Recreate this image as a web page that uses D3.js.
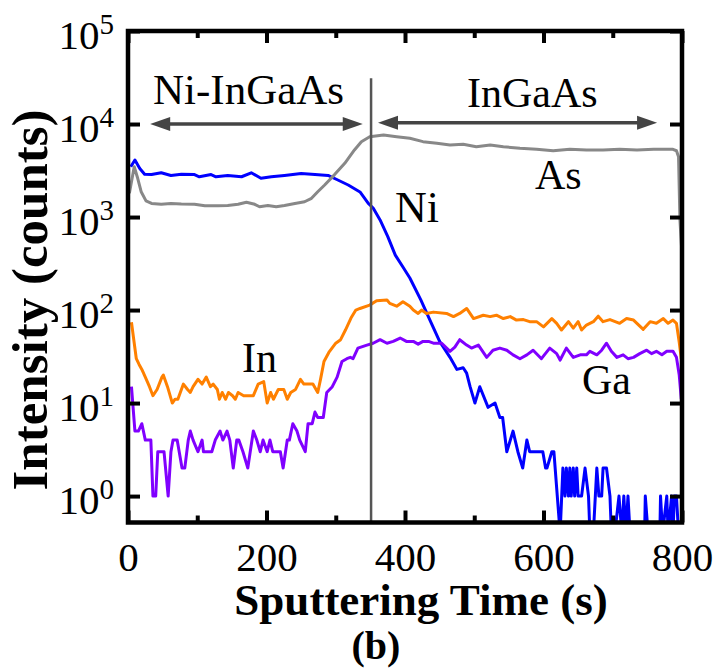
<!DOCTYPE html>
<html>
<head>
<meta charset="utf-8">
<script src="https://cdn.jsdelivr.net/npm/d3@7"></script>
<style>
  body { margin: 0; background: #fff; }
  svg { font-family: "Liberation Serif", "Times New Roman", serif; }
</style>
</head>
<body>
<div id="container"></div>
<script>
// SIMS depth profile, [sputtering time (s), intensity (counts)]
var niData = [[4,3470],[10,4100],[17,3330],[24,2880],[34,2860],[48,2990],[62,2800],[77,2880],[96,2860],[103,2710],[120,2860],[127,2710],[144,2800],[164,2710],[178,2990],[192,2610],[207,2710],[226,2800],[250,2940],[270,2860],[289,2800],[303,2500],[318,2210],[335,1860],[347,1400],[354,1250],[364,930],[375,620],[386,390],[397,290],[407,221],[423,128],[436,78],[450,46],[465,31],[475,23],[484,24],[489,21],[494,15],[501,10],[508,15],[520,9],[530,10],[537,7],[541,7],[547,3],[556,5],[563,3],[570,2],[576,4],[580,3],[599,3],[603,2],[605,2],[612,3],[615,3],[624,0],[628,2],[631,1],[633,2],[636,1],[638,2],[640,1],[643,2],[645,1],[648,2],[650,1],[655,1],[660,2],[665,1],[667,0],[672,0],[677,2],[680,1],[684,1],[686,2],[691,2],[696,1],[698,0],[703,0],[709,1],[713,0],[716,1],[719,0],[722,1],[725,0],[746,0],[747,1],[751,0],[768,0],[769,1],[772,0],[778,1],[780,0],[785,1],[787,0],[789,1],[792,1],[795,0],[800,0]];

var asData = [[2,1800],[9,3470],[14,2610],[19,1870],[26,1490],[34,1400],[48,1370],[62,1400],[77,1380],[96,1370],[111,1320],[130,1320],[144,1330],[159,1370],[171,1440],[183,1370],[190,1290],[202,1330],[214,1290],[226,1330],[241,1400],[255,1460],[265,1590],[274,1870],[284,2210],[298,2840],[313,3780],[327,5260],[337,6460],[349,7300],[369,7600],[388,7300],[407,7020],[426,6460],[446,6200],[465,5940],[484,6050],[503,5700],[523,5940],[542,5700],[566,5480],[590,5350],[614,5160],[638,5350],[662,5250],[686,5250],[710,5350],[735,5250],[759,5350],[787,5350],[792,5160],[795,4450],[797,930],[800,400]];

var inData = [[5,74],[8,50],[12,30],[16,26],[20,23],[25,19],[31,15],[36,12],[42,14],[49,19],[51,20],[57,15],[64,10],[68,11],[72,11],[80,16],[86,14],[90,13],[94,15],[101,18],[107,16],[113,19],[119,15],[123,16],[129,14],[132,11],[136,13],[141,11],[145,13],[151,12],[155,11],[159,13],[167,12],[181,12],[188,16],[196,17],[201,10],[206,13],[210,11],[217,14],[225,14],[230,11],[235,13],[242,14],[249,18],[254,16],[261,16],[267,16],[274,13],[278,18],[283,28],[290,35],[300,44],[307,48],[314,61],[322,82],[329,100],[335,104],[349,113],[359,126],[374,128],[378,118],[388,110],[397,123],[407,110],[412,100],[419,92],[424,100],[431,92],[441,95],[460,92],[470,85],[479,92],[489,104],[499,81],[513,88],[523,85],[532,88],[542,81],[552,85],[561,78],[571,79],[580,75],[590,75],[600,66],[612,81],[619,72],[626,61],[636,75],[643,64],[650,75],[655,61],[662,69],[672,75],[679,86],[686,75],[696,79],[710,72],[720,81],[730,78],[744,62],[754,75],[763,72],[773,81],[780,72],[787,78],[792,72],[796,45],[799,30]];

var gaData = [[5,15],[10,5],[15,5],[20,6],[25,4],[30,4],[33,4],[36,1],[40,1],[43,3],[52,3],[58,1],[62,3],[65,4],[71,4],[78,2],[82,2],[87,4],[90,5],[94,4],[101,3],[107,4],[109,3],[121,3],[126,4],[133,5],[137,4],[143,5],[147,4],[152,2],[157,4],[160,4],[166,3],[173,2],[181,5],[186,4],[191,3],[195,4],[201,3],[205,4],[209,3],[220,3],[224,2],[230,4],[233,4],[238,6],[244,5],[248,4],[256,3],[260,6],[266,6],[270,8],[274,7],[282,7],[287,13],[295,15],[302,19],[309,28],[316,30],[321,31],[325,30],[332,39],[345,42],[354,44],[364,48],[374,44],[383,46],[393,50],[402,46],[412,46],[419,43],[426,46],[434,46],[441,44],[453,44],[465,36],[472,40],[479,48],[489,42],[496,39],[506,42],[518,31],[527,37],[537,39],[547,37],[556,33],[566,30],[576,33],[585,37],[597,30],[609,39],[619,34],[624,29],[633,39],[643,31],[653,33],[662,33],[667,36],[677,33],[684,37],[691,44],[698,36],[706,31],[715,33],[722,30],[730,31],[739,34],[749,37],[756,34],[763,36],[771,33],[778,36],[787,36],[792,31],[796,20],[799,11]];

var xMajor = [0, 200, 400, 600, 800];
var xMinor = [100, 300, 500, 700];
var yTicks = [1, 10, 100, 1000, 10000, 100000];

var width = 717, height = 668;

var x = d3.scaleLinear().domain([0, 800]).range([128, 682]);
var y = d3.scaleLog().domain([0.52, 1e5]).range([522.5, 31]);

var svg = d3.select("#container").append("svg")
  .attr("width", width)
  .attr("height", height);

svg.append("clipPath").attr("id", "plot-clip")
  .append("rect")
  .attr("x", x(0)).attr("y", y(1e5))
  .attr("width", x(800) - x(0)).attr("height", y(0.52) - y(1e5));

var line = d3.line()
  .x(function(d) { return x(d[0]); })
  .y(function(d) { return y(Math.max(d[1], 0.4)); });   // zero counts fall off the log axis

var series = [
  {name: "Ni", data: niData, color: "#0000ff"},
  {name: "As", data: asData, color: "#888888"},
  {name: "In", data: inData, color: "#ff8000"},
  {name: "Ga", data: gaData, color: "#8000ff"}
];

var gLines = svg.append("g").attr("clip-path", "url(#plot-clip)");
gLines.selectAll("path")
  .data(series)
  .enter()
  .append("path")
  .attr("d", function(d) { return line(d.data); })
  .attr("fill", "none")
  .attr("stroke", function(d) { return d.color; })
  .attr("stroke-width", 3)
  .attr("stroke-linejoin", "round");

// interface marker
svg.append("line")
  .attr("x1", x(351)).attr("x2", x(351))
  .attr("y1", y(3.1e4)).attr("y2", y(0.52))
  .attr("stroke", "#555")
  .attr("stroke-width", 2.5);

// region arrows
function arrow(t0, t1, v) {
  var yy = y(v), xa = x(t0), xb = x(t1), hl = 20, hw = 7;
  svg.append("line")
    .attr("x1", xa + hl - 2).attr("x2", xb - hl + 2)
    .attr("y1", yy).attr("y2", yy)
    .attr("stroke", "#444").attr("stroke-width", 3.5);
  svg.append("path")
    .attr("d", "M" + xa + "," + yy + "L" + (xa + hl) + "," + (yy - hw) + "L" + (xa + hl) + "," + (yy + hw) + "Z")
    .attr("fill", "#444");
  svg.append("path")
    .attr("d", "M" + xb + "," + yy + "L" + (xb - hl) + "," + (yy - hw) + "L" + (xb - hl) + "," + (yy + hw) + "Z")
    .attr("fill", "#444");
}
arrow(32, 339, 1e4);
arrow(361, 764, 1.03e4);

// axes: ticks inside the frame
function styleAxis(g) {
  g.select(".domain").remove();
  g.selectAll(".tick line").attr("stroke", "#000").attr("stroke-width", 4);
}

var gx = svg.append("g")
  .attr("transform", "translate(0," + y(0.52) + ")")
  .call(d3.axisBottom(x).tickValues(xMajor).tickSize(-12).tickFormat(d3.format("d")))
  .call(styleAxis);
gx.selectAll("text")
  .attr("y", 48).attr("dy", null)
  .attr("fill", "#000")
  .style("font-family", "Liberation Serif")
  .style("font-size", "41px");

svg.append("g")
  .attr("transform", "translate(0," + y(0.52) + ")")
  .call(d3.axisBottom(x).tickValues(xMinor).tickSize(-7).tickFormat(""))
  .call(styleAxis);
svg.append("g")
  .attr("transform", "translate(0," + y(1e5) + ")")
  .call(d3.axisTop(x).tickValues(xMajor).tickSize(-12).tickFormat(""))
  .call(styleAxis);
svg.append("g")
  .attr("transform", "translate(0," + y(1e5) + ")")
  .call(d3.axisTop(x).tickValues(xMinor).tickSize(-7).tickFormat(""))
  .call(styleAxis);

var gy = svg.append("g")
  .attr("transform", "translate(" + x(0) + ",0)")
  .call(d3.axisLeft(y).tickValues(yTicks).tickSize(-12).tickFormat(""))
  .call(styleAxis);
var yLab = gy.selectAll(".tick").append("text")
  .attr("x", -14).attr("y", 17)
  .attr("text-anchor", "end")
  .attr("fill", "#000")
  .style("font-family", "Liberation Serif")
  .style("font-size", "41px");
yLab.append("tspan").text("10");
yLab.append("tspan")
  .attr("dy", -15)
  .style("font-size", "29px")
  .text(function(d) { return Math.round(Math.log10(d)); });

svg.append("g")
  .attr("transform", "translate(" + x(800) + ",0)")
  .call(d3.axisRight(y).tickValues(yTicks).tickSize(-12).tickFormat(""))
  .call(styleAxis);

// frame
svg.append("rect")
  .attr("x", x(0)).attr("y", y(1e5))
  .attr("width", x(800) - x(0)).attr("height", y(0.52) - y(1e5))
  .attr("fill", "none")
  .attr("stroke", "#000")
  .attr("stroke-width", 4.5);

// labels
var labels = [
  {text: "Ni-InGaAs", x: 153, y: 104, size: 43},
  {text: "InGaAs", x: 467, y: 107, size: 42},
  {text: "Ni", x: 395, y: 222, size: 44},
  {text: "As", x: 535, y: 189, size: 42},
  {text: "In", x: 242, y: 372, size: 42},
  {text: "Ga", x: 582, y: 394, size: 42}
];
svg.selectAll(".lbl")
  .data(labels)
  .enter()
  .append("text")
  .attr("class", "lbl")
  .attr("x", function(d) { return d.x; })
  .attr("y", function(d) { return d.y; })
  .style("font-size", function(d) { return d.size + "px"; })
  .text(function(d) { return d.text; });

svg.append("text")
  .attr("x", 421).attr("y", 615)
  .attr("text-anchor", "middle")
  .style("font-weight", "bold")
  .style("font-size", "45px")
  .text("Sputtering Time (s)");

svg.append("text")
  .attr("x", 376).attr("y", 659)
  .attr("text-anchor", "middle")
  .style("font-weight", "bold")
  .style("font-size", "40px")
  .text("(b)");

svg.append("text")
  .attr("transform", "translate(47,300) rotate(-90)")
  .attr("text-anchor", "middle")
  .style("font-weight", "bold")
  .style("font-size", "51px")
  .text("Intensity (counts)");
</script>
</body>
</html>
